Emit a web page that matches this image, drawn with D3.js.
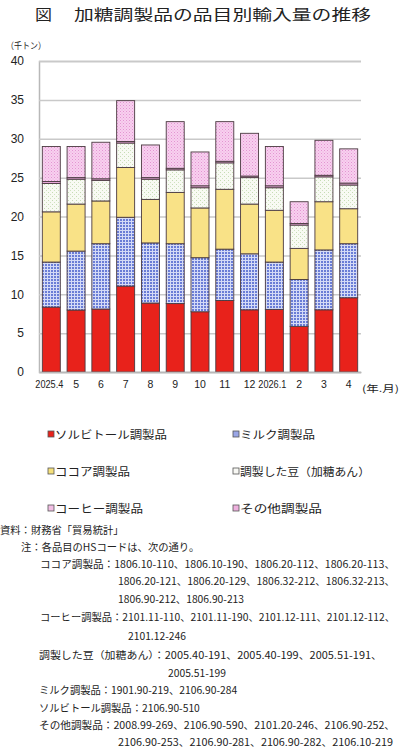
<!DOCTYPE html>
<html><head><meta charset="utf-8">
<script src="https://cdn.jsdelivr.net/npm/d3@7"></script>
<style>
html,body{margin:0;padding:0;background:#fff;}
svg{display:block;}
text{font-family:"Noto Sans CJK JP","Noto Sans",sans-serif;fill:#222;}
.num{font-family:"Liberation Sans",Arial,sans-serif;}
</style></head>
<body>
<script>
// ---- data ----
const months = ["2025.4","5","6","7","8","9","10","11","12","2026.1","2","3","4"];
const seriesNames = ["ソルビトール調製品","ミルク調製品","ココア調製品","調製した豆（加糖あん）","コーヒー調製品","その他調製品"];
const sorbitol = [8.35, 7.97, 8.1, 11.05, 8.87, 8.8, 7.75, 9.2, 8.0, 8.05, 5.87, 8.0, 9.55];
const milk     = [5.79, 7.58, 8.4, 8.85, 7.73, 7.7, 6.95, 6.6, 7.2, 6.09, 6.03, 7.7, 6.95];
const cocoa    = [6.46, 6.05, 5.5, 6.4, 5.6, 6.6, 6.4, 7.7, 6.4, 6.66, 4.0, 6.2, 4.5];
const beans    = [3.65, 3.2, 2.65, 3.15, 2.6, 2.9, 2.6, 3.4, 3.4, 2.9, 3.0, 3.2, 3.05];
const coffee   = [0.25, 0.2, 0.2, 0.2, 0.2, 0.2, 0.25, 0.2, 0.2, 0.25, 0.2, 0.2, 0.25];
const other    = [4.5, 4.0, 4.7, 5.25, 4.2, 6.0, 4.35, 5.1, 5.5, 5.05, 2.8, 4.5, 4.4];
const yTicks = [0,5,10,15,20,25,30,35,40];
const titleMark = "図";
const titleText = "加糖調製品の品目別輸入量の推移";
const unitLabel = "（千トン）";
const xUnitLabel = "(年.月)";
const notes = [
  "資料：財務省「貿易統計」",
  "注：各品目のHSコードは、次の通り。",
  "ココア調製品：1806.10-110、1806.10-190、1806.20-112、1806.20-113、",
  "1806.20-121、1806.20-129、1806.32-212、1806.32-213、",
  "1806.90-212、1806.90-213",
  "コーヒー調製品：2101.11-110、2101.11-190、2101.12-111、2101.12-112、",
  "2101.12-246",
  "調製した豆（加糖あん）：2005.40-191、2005.40-199、2005.51-191、",
  "2005.51-199",
  "ミルク調製品：1901.90-219、2106.90-284",
  "ソルビトール調製品：2106.90-510",
  "その他調製品：2008.99-269、2106.90-590、2101.20-246、2106.90-252、",
  "2106.90-253、2106.90-281、2106.90-282、2106.10-219"
];

// ---- layout ----
const W = 400, H = 747;
// [x, right edge or null (natural width), y]
const noteLayout = [
  [0,null,529],[21,null,546],[40,395,563],[118,395,580],[118,null,598],
  [40,395,616],[128,null,635],[39,382,654],[168,null,672],[39,null,689],
  [39,null,707],[39,395,724],[118,393,741]
];

const svg = d3.select("body").append("svg").attr("width",W).attr("height",H);

// patterns
const defs = svg.append("defs");
const pMilk = defs.append("pattern").attr("id","pMilk").attr("patternUnits","userSpaceOnUse").attr("width",3).attr("height",3);
pMilk.append("rect").attr("width",3).attr("height",3).attr("fill","#d4daf6");
pMilk.append("rect").attr("width",2).attr("height",2).attr("fill","#6a7dd6");
const pBeans = defs.append("pattern").attr("id","pBeans").attr("patternUnits","userSpaceOnUse").attr("width",4).attr("height",4);
pBeans.append("rect").attr("width",4).attr("height",4).attr("fill","#f8faf3");
pBeans.append("rect").attr("x",0).attr("y",0).attr("width",1).attr("height",1).attr("fill","#c6dcb4");
pBeans.append("rect").attr("x",2).attr("y",2).attr("width",1).attr("height",1).attr("fill","#d0e2c0");
const pOther = defs.append("pattern").attr("id","pOther").attr("patternUnits","userSpaceOnUse").attr("width",3).attr("height",3);
pOther.append("rect").attr("width",3).attr("height",3).attr("fill","#f8d0ef");
pOther.append("rect").attr("x",0).attr("y",0).attr("width",1).attr("height",1).attr("fill","#e395d2");
pOther.append("rect").attr("x",1.5).attr("y",1.5).attr("width",1).attr("height",1).attr("fill","#eaa8dc");

const fills = ["#e8221b","url(#pMilk)","#f9e287","url(#pBeans)","#e9a9da","url(#pOther)"];
const legendFills = ["#e8221b","#9aa6e6","#f5e07a","#f8f8f4","#f2bfe4","#eeb0de"];

// title
svg.append("text").attr("x",35).attr("y",13).attr("dominant-baseline","central")
  .attr("font-size",14.5).attr("textLength",17).attr("lengthAdjust","spacingAndGlyphs").text(titleMark);
svg.append("text").attr("x",74).attr("y",13).attr("dominant-baseline","central")
  .attr("font-size",14.5).attr("textLength",297).attr("lengthAdjust","spacingAndGlyphs").text(titleText);
svg.append("text").attr("x",6).attr("y",45).attr("dominant-baseline","central")
  .attr("font-size",9).attr("textLength",40).attr("lengthAdjust","spacingAndGlyphs").text(unitLabel);

// scales
const x = d3.scaleBand().domain(months).range([39,361]).paddingInner(0.274).paddingOuter(0.133);
const y = d3.scaleLinear().domain([0,40]).range([372,61]);

// grid / y axis
const yAxis = svg.append("g").attr("transform","translate(39,0)")
  .call(d3.axisLeft(y).tickValues(yTicks).tickSize(-322).tickPadding(15).tickFormat(d3.format("d")));
yAxis.select(".domain").attr("stroke","#b8b8b8").attr("stroke-width",1.5);
yAxis.selectAll(".tick line").attr("stroke","#c9c9c9").attr("stroke-width",1.5);
yAxis.selectAll(".tick text").attr("class","num").attr("font-size",12).attr("fill","#222");

// stacked bars
const rows = months.map((m,i)=>({month:m, s0:sorbitol[i], s1:milk[i], s2:cocoa[i], s3:beans[i], s4:coffee[i], s5:other[i]}));
const keys = ["s0","s1","s2","s3","s4","s5"];
const stacked = d3.stack().keys(keys)(rows);
svg.append("g").selectAll("g").data(stacked).join("g")
  .attr("fill",(d,i)=>fills[i])
  .selectAll("rect").data(d=>d).join("rect")
  .attr("x",d=>x(d.data.month)).attr("width",x.bandwidth())
  .attr("y",d=>y(d[1])).attr("height",d=>y(d[0])-y(d[1]))
  .attr("stroke","#4a3a40").attr("stroke-width",0.9);

// x axis
const xAxis = svg.append("g").attr("transform","translate(0,372)")
  .call(d3.axisBottom(x).tickSize(0).tickPadding(9));
xAxis.select(".domain").attr("stroke","#b8b8b8").attr("stroke-width",1.5);
xAxis.selectAll(".tick text").attr("class","num").attr("font-size",10.5).attr("fill","#222")
  .each(function(d){ if(d.length>3){ d3.select(this).attr("font-size",10).attr("textLength",28).attr("lengthAdjust","spacingAndGlyphs").attr("dx",-2);} });
svg.append("text").attr("x",362).attr("y",388).attr("dominant-baseline","central")
  .attr("font-size",9.5).attr("textLength",37).attr("lengthAdjust","spacingAndGlyphs").text(xUnitLabel);

// legend
const legX = [48,233], legTextX = [55,240], legY = [434,471,508];
const legEnd = [[167,315],[130,370],[143,322]];
[0,1,2,3,4,5].forEach((k,i)=>{
  const col = i%2, row = Math.floor(i/2);
  svg.append("rect").attr("x",legX[col]).attr("y",legY[row]-3).attr("width",6).attr("height",6)
    .attr("fill",legendFills[k]).attr("stroke","#555").attr("stroke-width",0.8);
  svg.append("text").attr("x",legTextX[col]).attr("y",legY[row]).attr("dominant-baseline","central")
    .attr("font-size",11).attr("textLength",legEnd[row][col]-legTextX[col]).attr("lengthAdjust","spacingAndGlyphs")
    .text(seriesNames[k]);
});

// notes
notes.forEach((t,i)=>{
  const [x0,x1,yy] = noteLayout[i];
  const tx = svg.append("text").attr("x",x0).attr("y",yy).attr("dominant-baseline","central")
    .attr("font-size",10.3).text(t);
  if(x1!==null){ tx.attr("font-size",10).attr("textLength",x1-x0).attr("lengthAdjust","spacingAndGlyphs"); }
});
</script>
</body></html>
